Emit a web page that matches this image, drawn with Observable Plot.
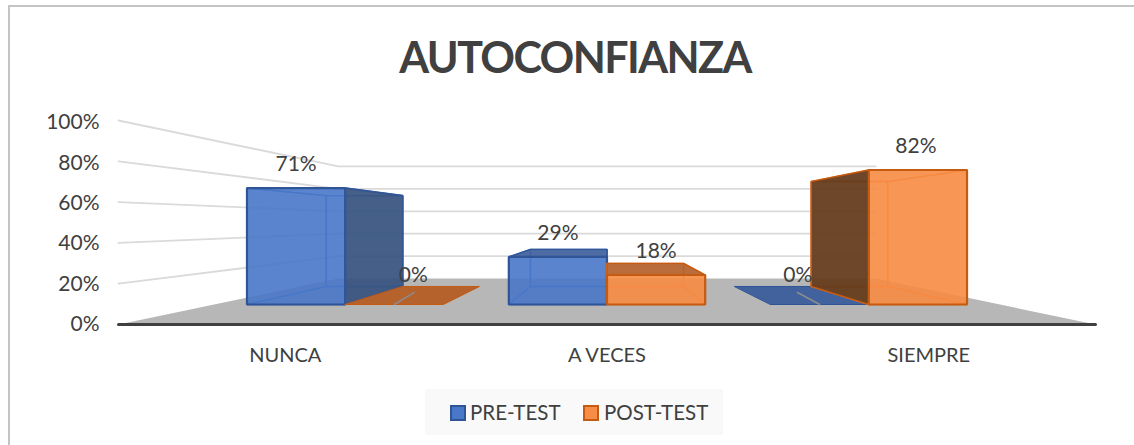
<!DOCTYPE html>
<html><head><meta charset="utf-8">
<script src="https://cdn.jsdelivr.net/npm/d3@7"></script>
<script src="https://cdn.jsdelivr.net/npm/@observablehq/plot@0.6"></script>
<style>
html,body{margin:0;padding:0;background:#fff;}
body{width:1134px;height:445px;overflow:hidden;position:relative;font-family:Lato,sans-serif;color:#404040;}
#frame{position:absolute;left:8px;top:5px;right:-4px;bottom:-4px;border:2px solid #c4c4c4;}
#title{position:absolute;left:0;width:1150px;top:28px;text-align:center;font-size:43px;font-weight:700;line-height:58px;letter-spacing:-1.6px;color:#404040;}
#chart{position:absolute;left:0;top:100px;}
#legend{position:absolute;left:425px;top:389px;width:298px;height:46px;background:#f9f9f9;font-size:20.5px;line-height:46px;}
#legend span.s{position:absolute;top:16px;width:12px;height:12px;border:2px solid;}
#legend span.t{position:absolute;top:0;white-space:nowrap;}
svg text{font-family:Lato,sans-serif;}
</style></head><body>
<div id="frame"></div>
<div id="title"></div>
<div id="chart"></div>
<div id="legend"></div>
<script>
const titleText = "AUTOCONFIANZA";
const categories = ["NUNCA", "A VECES", "SIEMPRE"];
const seriesNames = ["PRE-TEST", "POST-TEST"];
const preTest = [71, 29, 0];
const postTest = [0, 18, 82];
const yTicks = [0, 20, 40, 60, 80, 100];

// Perspective of the 3-D box: vanishing point at the middle of the front plane.
const depthBack = 0.55, barFront = 0.804, barBack = 0.627, gap = 0.125, barW = 0.375, labelDepth = 0.988;
const P = (u, v, s) => ({x: 1.5 + (u - 1.5) * s, y: 50 + (v - 50) * s});
const style = [
  {front:"#4a78c8", side:"#38547f", top:"#41629c", edge:"#2f5597", inner:"#4472c4"},
  {front:"#f68c45", side:"#63391a", top:"#b5622c", edge:"#c55a11", inner:"#ed7d31"}
];
const face = (pts, o) => Plot.line(pts, {x:"x", y:"y", curve:"linear-closed", strokeLinejoin:"miter", ...o});

const marks = [];
// floor
marks.push(face([P(0,0,1),P(3,0,1),P(3,0,depthBack),P(0,0,depthBack)], {fill:"#b7b7b7", stroke:"none"}));
// walls
for (const t of yTicks.slice(1)) {
  marks.push(Plot.line([P(0,t,1),P(0,t,depthBack),P(3,t,depthBack)], {x:"x", y:"y", stroke:"#dadada", strokeWidth:1.8}));
}
// bars
const labels = [];
categories.forEach((c, i) => {
  [preTest[i], postTest[i]].forEach((v, k) => {
    const a = i + gap + k * barW, b = a + barW, st = style[k];
    const mid = (a + b) / 2;
    labels.push({...P(mid, v, barFront), v, mid});
    const topFace = [P(a,v,barFront),P(b,v,barFront),P(b,v,barBack),P(a,v,barBack)];
    if (v === 0) {
      marks.push(face(topFace, {fill:st.top, stroke:st.edge, strokeWidth:1}));
      return;
    }
    const left = [P(a,0,barFront),P(a,v,barFront),P(a,v,barBack),P(a,0,barBack)];
    const right = [P(b,0,barFront),P(b,v,barFront),P(b,v,barBack),P(b,0,barBack)];
    const back = [P(a,0,barBack),P(b,0,barBack),P(b,v,barBack),P(a,v,barBack)];
    const bottom = [P(a,0,barFront),P(b,0,barFront),P(b,0,barBack),P(a,0,barBack)];
    const front = [P(a,0,barFront),P(b,0,barFront),P(b,v,barFront),P(a,v,barFront)];
    const hidden = {fill:st.front, fillOpacity:0.12, stroke:st.inner, strokeWidth:1.4};
    const outer = {fillOpacity:0.93, stroke:st.edge, strokeWidth:1.6};
    marks.push(face(back, hidden), face(bottom, hidden));
    const leftShown = a > 1.5, rightShown = b < 1.5, topShown = v < 50;
    if (!leftShown) marks.push(face(left, hidden));
    if (!rightShown) marks.push(face(right, hidden));
    if (!topShown) marks.push(face(topFace, hidden));
    if (leftShown) marks.push(face(left, {...outer, fill:st.side}));
    if (rightShown) marks.push(face(right, {...outer, fill:st.side}));
    if (topShown) marks.push(face(topFace, {...outer, fill:st.top, strokeWidth:1.3}));
    marks.push(face(front, {fill:st.front, fillOpacity:0.9, stroke:st.edge, strokeWidth:2.2}));
  });
});
// baseline
marks.push(Plot.line([P(0,0,1),P(3,0,1)], {x:"x", y:"y", stroke:"#404040", strokeWidth:3}));
// leader lines of the moved 0% labels
for (const l of labels.filter(d => d.v === 0)) {
  const out = l.mid < 1.5 ? -0.05 : 0.04;
  marks.push(Plot.line([P(l.mid,0,barFront),P(l.mid+out,0,0.686)], {x:"x", y:"y", stroke:"#8c8c8c", strokeWidth:1.5}));
}
const textOpts = {x:"x", y:"y", text:d => d.v + "%", fontSize:21, fill:"#404040"};
marks.push(Plot.text(labels.filter(d => d.v > 0 && d.v < 80), {...textOpts, dy:-24}));
marks.push(Plot.text(labels.filter(d => d.v >= 80), {...textOpts, dx:-2, dy:-24}));
marks.push(Plot.text(labels.filter(d => d.v === 0 && d.mid < 1.5), {...textOpts, dx:19, dy:-29}));
marks.push(Plot.text(labels.filter(d => d.v === 0 && d.mid > 1.5), {...textOpts, dx:-22, dy:-29}));
// axes: labels sit just behind the front plane
const yPos = yTicks.map(t => P(0, t, labelDepth).y);
const xPos = categories.map((c, i) => P(i + 0.5, 0, labelDepth).x);
marks.push(Plot.axisY({ticks:yPos, tickFormat:d => yTicks[yPos.indexOf(d)] + "%", tickSize:0, tickPadding:19, fontSize:21, dy:1, label:null, fill:"#404040"}));
marks.push(Plot.axisX({ticks:xPos, tickFormat:d => categories[xPos.indexOf(d)], tickSize:0, tickPadding:23, fontSize:20, label:null, fill:"#404040"}));

const chart = Plot.plot({
  width:1134, height:280,
  marginLeft:118, marginRight:39, marginTop:20, marginBottom:56,
  x:{domain:[0,3], axis:null},
  y:{domain:[0,100], axis:null},
  style:{background:"transparent", overflow:"visible"},
  marks
});
document.getElementById("chart").appendChild(chart);
document.getElementById("title").textContent = titleText;

const lg = document.getElementById("legend");
const pos = [[25,45],[158,179]];
seriesNames.forEach((n, k) => {
  const s = document.createElement("span");
  s.className = "s"; s.style.left = pos[k][0] + "px";
  s.style.background = style[k].front; s.style.borderColor = style[k].edge;
  const t = document.createElement("span");
  t.className = "t"; t.style.left = pos[k][1] + "px"; t.textContent = n;
  lg.append(s, t);
});
</script>
</body></html>
